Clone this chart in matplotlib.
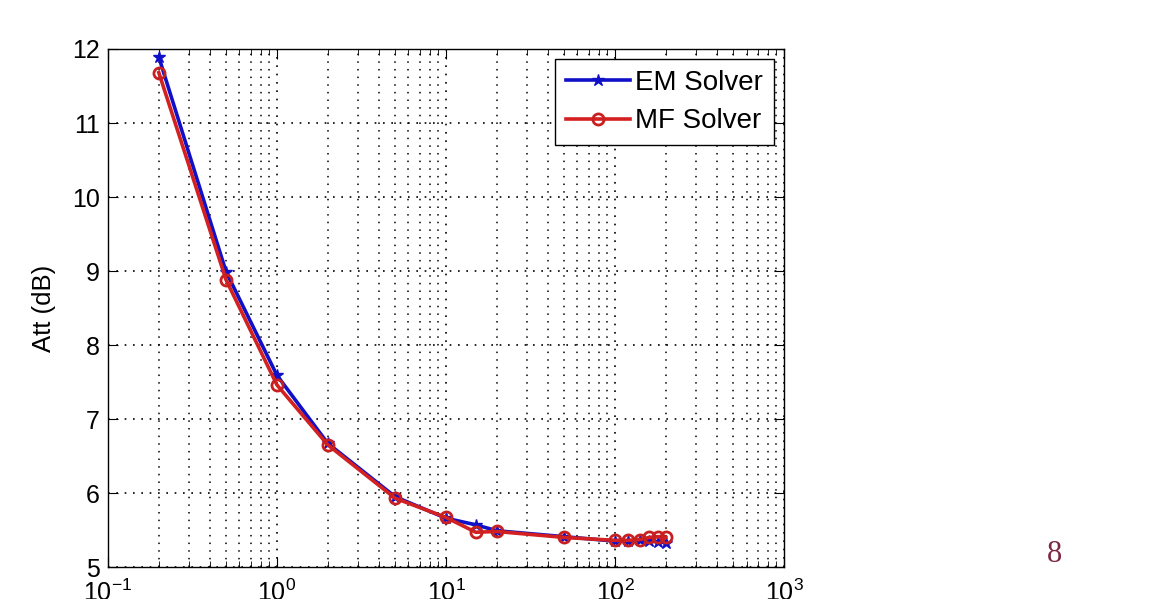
import matplotlib
matplotlib.use("Agg")
import matplotlib.pyplot as plt
from matplotlib.ticker import LogLocator, NullFormatter, FuncFormatter
import numpy as np

freq = [0.2, 0.5, 1, 2, 5, 10, 15, 20, 50, 100, 120, 140, 160, 180, 200]
em_att = [11.89, 8.99, 7.59, 6.67, 5.95, 5.66, 5.57, 5.49, 5.41, 5.35, 5.35, 5.36, 5.35, 5.34, 5.33]
mf_att = [11.68, 8.88, 7.46, 6.65, 5.93, 5.67, 5.47, 5.48, 5.40, 5.36, 5.36, 5.37, 5.40, 5.41, 5.40]
labels = ["EM Solver", "MF Solver"]

plt.rcParams['font.family'] = ['Liberation Sans', 'DejaVu Sans']
plt.rcParams['mathtext.fontset'] = 'custom'
plt.rcParams['mathtext.rm'] = 'Liberation Sans'
plt.rcParams['mathtext.default'] = 'regular'

fig = plt.figure(figsize=(11.62, 5.99), dpi=100)
ax = fig.add_axes([0.0929, 0.0534, 0.5818, 0.8648])

ax.plot(freq, em_att, color='#1010c8', lw=2.6, marker='*', ms=9, label=labels[0])
ax.plot(freq, mf_att, color='#d42020', lw=2.6, marker='o', ms=8, mfc='none',
        mec='#c82020', mew=2.0, label=labels[1])

ax.set_xscale('log')
ax.set_xlim(0.1, 1000)
ax.set_ylim(5, 12)
ax.set_yticks(range(5, 13))
ax.xaxis.set_major_locator(LogLocator(base=10, numticks=10))
ax.xaxis.set_minor_locator(LogLocator(base=10, subs=range(2, 10), numticks=100))
ax.xaxis.set_minor_formatter(NullFormatter())
ax.xaxis.set_major_formatter(FuncFormatter(
    lambda v, p: '10$^{%d}$' % int(round(np.log10(v)))))

dots = (0, (1, 4))
ax.grid(True, which='major', axis='both', color='black', linestyle=dots, lw=1.2)
ax.grid(True, which='minor', axis='x', color='black', linestyle=dots, lw=1.1)

ax.tick_params(which='both', direction='in', top=True, right=True, labelsize=18)
ax.tick_params(which='major', length=7)
ax.tick_params(which='minor', length=4)
ax.tick_params(axis='x', pad=9)
ax.tick_params(axis='y', pad=6)
for s in ax.spines.values():
    s.set_linewidth(1.0)

ax.set_ylabel('Att (dB)', fontsize=18.5, labelpad=11)

leg = ax.legend(loc='upper right', fontsize=20, fancybox=False, framealpha=1,
                edgecolor='black', borderaxespad=0.35, handlelength=2.3,
                handletextpad=0.2, borderpad=0.4, labelspacing=0.45)
leg.get_frame().set_linewidth(1.0)

fig.text(1055 / 1162, 1 - 555 / 599, '8', fontsize=22, color='#7a2845',
         family=['Liberation Serif', 'DejaVu Serif'], ha='center', va='center')

fig.savefig('out.png', dpi=100)
